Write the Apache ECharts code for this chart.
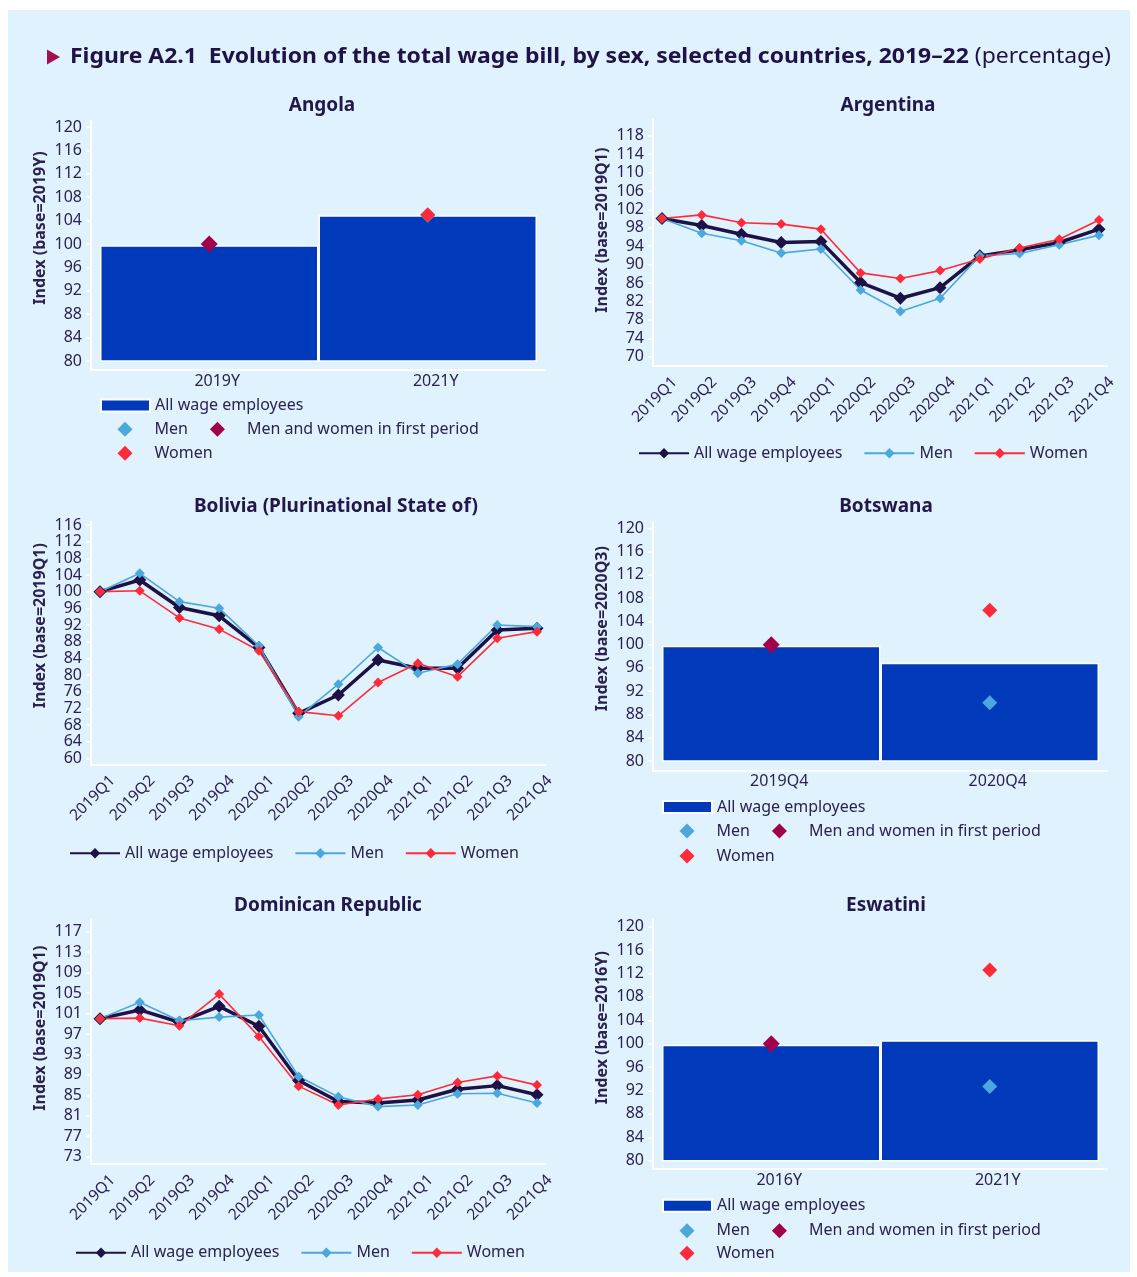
<!DOCTYPE html>
<html><head><meta charset="utf-8">
<script src="https://cdn.jsdelivr.net/npm/echarts@6/dist/echarts.min.js"></script>
<style>
html,body{margin:0;padding:0;background:#ffffff;}
#bg{position:absolute;left:8px;top:10px;width:1122px;height:1262px;background:#e0f2fd;}
#chart{position:absolute;left:0;top:0;width:1137px;height:1277px;}
</style></head>
<body><div id="bg"></div><div id="chart"></div>
<script>
// ---------- DATA ----------
const quarters = ['2019Q1','2019Q2','2019Q3','2019Q4','2020Q1','2020Q2','2020Q3','2020Q4','2021Q1','2021Q2','2021Q3','2021Q4'];

const argAll   = [100, 98.5, 96.6, 94.8, 95.0, 86.1, 82.7, 85.0, 91.9, 93.2, 94.8, 97.7];
const argMen   = [100, 96.8, 95.2, 92.5, 93.4, 84.5, 79.8, 82.7, 91.9, 92.4, 94.3, 96.4];
const argWomen = [100, 100.8, 99.1, 98.8, 97.7, 88.2, 87.0, 88.7, 91.2, 93.6, 95.5, 99.7];

const bolAll   = [100, 102.8, 96.2, 94.2, 86.6, 70.8, 75.2, 83.6, 81.6, 81.6, 90.8, 91.2];
const bolMen   = [100, 104.4, 97.6, 96.0, 87.0, 70.0, 77.8, 86.6, 80.4, 82.6, 92.0, 91.6];
const bolWomen = [100, 100.2, 93.7, 91.0, 85.8, 71.2, 70.2, 78.2, 82.8, 79.6, 88.8, 90.4];

const domAll   = [100, 101.7, 99.3, 102.4, 98.5, 87.9, 83.8, 83.5, 84.1, 86.2, 86.9, 85.1];
const domMen   = [100, 103.2, 99.6, 100.3, 100.7, 88.7, 84.7, 82.8, 83.1, 85.3, 85.4, 83.5];
const domWomen = [100, 100.1, 98.6, 104.8, 96.5, 86.8, 83.1, 84.3, 85.1, 87.5, 88.8, 87.0];

const angCats  = ['2019Y','2021Y'];
const angAll   = [99.8, 104.9];
const angMen   = ['-', 104.9];
const angFirst = [100, '-'];
const angWomen = ['-', 105.0];

const botCats  = ['2019Q4','2020Q4'];
const botAll   = [99.8, 96.9];
const botMen   = ['-', 90.0];
const botFirst = [100, '-'];
const botWomen = ['-', 105.9];

const eswCats  = ['2016Y','2021Y'];
const eswAll   = [99.8, 100.6];
const eswMen   = ['-', 92.7];
const eswFirst = [100, '-'];
const eswWomen = ['-', 112.6];

// y-axis tick ranges: [min, max, interval]
const angTicks = [80, 120, 4];
const argTicks = [70, 118, 4];
const bolTicks = [60, 116, 4];
const botTicks = [80, 120, 4];
const domTicks = [73, 117, 4];
const eswTicks = [80, 120, 4];

const LBL_ALL = 'All wage employees', LBL_MEN = 'Men', LBL_WOMEN = 'Women', LBL_FIRST = 'Men and women in first period';

// ---------- STYLE ----------
const FONT = '"Noto Sans", "Open Sans", sans-serif';
const TXT = '#2b2252';
const C_BAR = '#0039b9', C_MEN = '#4aa8dc', C_WOMEN = '#ff2b3b', C_FIRST = '#a1004b', C_ALL = '#1e1145';
const DIAMOND = 'path://M10,0 L20,10 L10,20 L0,10 Z';

const option = {
  animation: false,
  textStyle: {fontFamily: FONT},
  grid: [], xAxis: [], yAxis: [], series: [], legend: [], title: [], graphic: []
};

const nameMap = {};
function sid(prefix, label){ const id = prefix + '|' + label; nameMap[id] = label; return id; }

function panel(p){
  const gi = option.grid.length;
  option.grid.push({left:p.ol, top:p.ot, width:p.or-p.ol, height:p.ob-p.ot, outerBoundsMode:'none', containLabel:false});
  option.grid.push({left:p.il, top:p.it, width:p.ir-p.il, height:p.ib-p.it, outerBoundsMode:'none', containLabel:false});
  const xi = option.xAxis.length, yi = option.yAxis.length;
  const line = {show:true, onZero:false, lineStyle:{color:'#ffffff', width:2}};
  option.xAxis.push({gridIndex:gi, type:'value', min:0, max:1, axisLine:line, axisTick:{show:false}, axisLabel:{show:false}, splitLine:{show:false}});
  option.yAxis.push({gridIndex:gi, type:'value', min:0, max:1, axisLine:line, axisTick:{show:false}, axisLabel:{show:false}, splitLine:{show:false}});
  const isBar = p.kind === 'bar';
  option.xAxis.push({
    gridIndex:gi+1, type:'category', data:p.cats, boundaryGap:isBar, offset:p.ob-p.ib,
    axisLine:{show:false}, axisTick:{show:false}, splitLine:{show:false},
    axisLabel: isBar
      ? {interval:0, color:TXT, fontSize:16, fontFamily:FONT, margin:3, padding:[0,0,0,16]}
      : {interval:0, rotate:45, margin:1, color:TXT, fontFamily:FONT, fontSize:15.5,
         formatter: v => '{g| }\n{t|' + v + '}',
         rich:{g:{fontSize:4, height:36, lineHeight:36}, t:{fontSize:15.5, lineHeight:18, color:TXT, fontFamily:FONT}}}
  });
  option.yAxis.push({
    gridIndex:gi+1, type:'value', min:p.ticks[0], max:p.ticks[1], interval:p.ticks[2], offset:p.il-p.ol,
    axisLine:{show:false}, splitLine:{show:false},
    axisTick:{show:true, length:5, lineStyle:{color:'#ffffff', width:1.5}},
    axisLabel:{color:TXT, fontSize:16, fontFamily:FONT, margin:9},
    name:p.yName, nameLocation:'middle', nameGap:43, nameMoveOverlap:false,
    nameTextStyle:{color:TXT, fontSize:16, fontWeight:'bold', fontFamily:FONT, padding:[0,0,0,32]}
  });
  option.title.push({text:p.title, left:p.tx, top:p.ty + 1, textAlign:'center', textVerticalAlign:'middle', padding:0,
    textStyle:{color:'#22174a', fontSize:19, fontWeight:'bold', fontFamily:FONT}});
  const ax = {xAxisIndex:xi+1, yAxisIndex:yi+1};
  const tstyle = {color:TXT, fontSize:16, fontFamily:FONT};
  if (isBar){
    const a = sid(p.key, LBL_ALL), m = sid(p.key, LBL_MEN), f = sid(p.key, LBL_FIRST), w = sid(p.key, LBL_WOMEN);
    option.series.push(Object.assign({type:'bar', name:a, data:p.all, barCategoryGap:'0%',
      itemStyle:{color:C_BAR, borderColor:'#ffffff', borderWidth:1.5}}, ax));
    option.series.push(Object.assign({type:'scatter', name:m, data:p.men, symbol:'diamond', symbolSize:15, itemStyle:{color:C_MEN, opacity:1}}, ax));
    option.series.push(Object.assign({type:'scatter', name:f, data:p.first, symbol:'diamond', symbolSize:17, itemStyle:{color:C_FIRST, opacity:1}}, ax));
    option.series.push(Object.assign({type:'scatter', name:w, data:p.women, symbol:'diamond', symbolSize:15, itemStyle:{color:C_WOMEN, opacity:1}}, ax));
    const base = {padding:0, selectedMode:false, formatter:n=>nameMap[n], textStyle:tstyle, itemWidth:49};
    option.legend.push(Object.assign({}, base, {left:p.il, top:p.lg[0]-8, data:[a], icon:'rect', itemHeight:12}));
    option.legend.push(Object.assign({}, base, {left:p.il+17.5, top:p.lg[1]-8, data:[m,f], icon:DIAMOND, itemHeight:15, itemGap:22}));
    option.legend.push(Object.assign({}, base, {left:p.il+17.5, top:p.lg[2]-8, data:[w], icon:DIAMOND, itemHeight:15}));
  } else {
    const a = sid(p.key, LBL_ALL), m = sid(p.key, LBL_MEN), w = sid(p.key, LBL_WOMEN);
    option.series.push(Object.assign({type:'line', name:a, data:p.all, symbol:'diamond', symbolSize:13,
      lineStyle:{color:C_ALL, width:3.5}, itemStyle:{color:C_ALL}}, ax));
    option.series.push(Object.assign({type:'line', name:m, data:p.men, symbol:'diamond', symbolSize:10,
      lineStyle:{color:C_MEN, width:1.6}, itemStyle:{color:C_MEN}}, ax));
    option.series.push(Object.assign({type:'line', name:w, data:p.women, symbol:'diamond', symbolSize:10,
      lineStyle:{color:C_WOMEN, width:1.6}, itemStyle:{color:C_WOMEN}}, ax));
    option.legend.push({left:p.lg[0], top:p.lg[1]-8, padding:0, selectedMode:false, formatter:n=>nameMap[n],
      textStyle:tstyle, itemWidth:50, itemHeight:13, itemGap:21, data:[a,m,w]});
  }
}

// ---------- PANELS ----------
panel({kind:'bar', key:'ang', title:'Angola', tx:322, ty:105, yName:'Index (base=2019Y)', cats:angCats, ticks:angTicks,
  all:angAll, men:angMen, first:angFirst, women:angWomen,
  ol:91, or:545, ot:121, ob:370, il:100, ir:537, it:127, ib:361, lg:[405.5,429.3,453.3]});
panel({kind:'line', key:'arg', title:'Argentina', tx:888, ty:105, yName:'Index (base=2019Q1)', cats:quarters, ticks:argTicks,
  all:argAll, men:argMen, women:argWomen,
  ol:653, or:1107, ot:120, ob:366, il:662, ir:1099, it:135.7, ib:356.7, lg:[638,453.3]});
panel({kind:'line', key:'bol', title:'Bolivia (Plurinational State of)', tx:336, ty:506, yName:'Index (base=2019Q1)', cats:quarters, ticks:bolTicks,
  all:bolAll, men:bolMen, women:bolWomen,
  ol:91, or:545, ot:521.7, ob:764.5, il:100, ir:537, it:525, ib:758.3, lg:[69,853.3]});
panel({kind:'bar', key:'bot', title:'Botswana', tx:886, ty:506, yName:'Index (base=2020Q3)', cats:botCats, ticks:botTicks,
  all:botAll, men:botMen, first:botFirst, women:botWomen,
  ol:653, or:1107, ot:521.7, ob:770.7, il:662, ir:1099, it:528.3, ib:761, lg:[807,831,856]});
panel({kind:'line', key:'dom', title:'Dominican Republic', tx:328, ty:905, yName:'Index (base=2019Q1)', cats:quarters, ticks:domTicks,
  all:domAll, men:domMen, women:domWomen,
  ol:91, or:545, ot:920, ob:1164, il:100, ir:537, it:931.7, ib:1156.7, lg:[75,1252.7]});
panel({kind:'bar', key:'esw', title:'Eswatini', tx:886, ty:905, yName:'Index (base=2016Y)', cats:eswCats, ticks:eswTicks,
  all:eswAll, men:eswMen, first:eswFirst, women:eswWomen,
  ol:653, or:1107, ot:920, ob:1169, il:662, ir:1099, it:926.7, ib:1160.7, lg:[1205.7,1230.7,1253.3]});

// ---------- MAIN TITLE ----------
const boldPart = 'Figure A2.1  Evolution of the total wage bill, by sex, selected countries, 2019\u201322';
const normPart = ' (percentage)';
const cv = document.createElement('canvas').getContext('2d');
cv.font = 'bold 21px "Noto Sans"'; const wb = cv.measureText(boldPart).width;
cv.font = '21px "Noto Sans"'; const wn = cv.measureText(normPart).width;
const sx = 1041 / (wb + wn);
option.graphic.push({type:'polygon', shape:{points:[[47,49.5],[60,57],[47,64.5]]}, style:{fill:'#a3104c'}});
option.graphic.push({type:'text', x:70, y:57, scaleX:sx, scaleY:1,
  style:{text:'{b|' + boldPart + '}{n|' + normPart + '}', verticalAlign:'middle', align:'left',
    rich:{b:{fontFamily:'"Noto Sans"', fontWeight:'bold', fontSize:21, fill:'#1f1247'},
          n:{fontFamily:'"Noto Sans"', fontWeight:'normal', fontSize:21, fill:'#1f1247'}}}});

const chart = echarts.init(document.getElementById('chart'), null, {renderer:'canvas'});
chart.setOption(option);
</script>
</body></html>
